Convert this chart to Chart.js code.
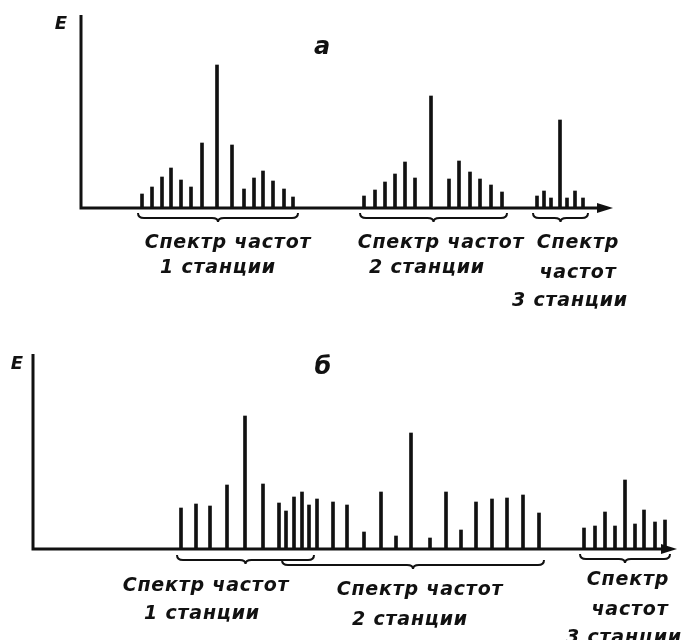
<!DOCTYPE html>
<html lang="ru">
<head>
<meta charset="utf-8">
<title>Спектры частот станций</title>
<script src="https://cdn.jsdelivr.net/npm/chart.js@4.4.1/dist/chart.umd.min.js"></script>
<style>
  html, body { margin: 0; padding: 0; background: #fff; }
  #page { position: relative; width: 689px; height: 640px; overflow: hidden; background: #fff; }
  canvas { position: absolute; left: 0; }
  #chartA { top: 0; }
  #chartB { top: 320px; }
  .lbl {
    position: absolute;
    transform: translate(-50%, -50%);
    white-space: nowrap;
    font-family: 'DejaVu Sans', sans-serif;
    font-style: italic;
    font-weight: bold;
    font-size: 19px;
    letter-spacing: 0.8px;
    color: #111;
  }
  .big { font-size: 24px; letter-spacing: 0; }
  .axisname { font-size: 18px; letter-spacing: 0; }
</style>
</head>
<body>
<div id="page">
  <canvas id="chartA" width="689" height="320"></canvas>
  <canvas id="chartB" width="689" height="320"></canvas>
</div>
<script>
// panel "а": stations separated in frequency
const freqA1 = [61, 71, 81, 90, 100, 110, 121, 136, 151, 163, 173, 182, 192, 203, 212];
const ampA1  = [14, 21, 31, 40, 28, 21, 65, 143, 63, 19, 30, 37, 27, 19, 11];
const freqA2 = [283, 294, 304, 314, 324, 334, 350, 368, 378, 389, 399, 410, 421];
const ampA2  = [12, 18, 26, 34, 46, 30, 112, 29, 47, 36, 29, 23, 16];
const freqA3 = [456, 463, 470, 479, 486, 494, 502];
const ampA3  = [12, 17, 10, 88, 10, 17, 10];

// panel "б": spectra of stations 1 and 2 overlap
const freqB1 = [148, 163, 177, 194, 212, 230, 246, 261, 276];
const ampB1  = [41, 45, 43, 64, 133, 65, 46, 52, 44];
const freqB2 = [253, 269, 284, 300, 314, 331, 348, 363, 378, 397, 413, 428, 443, 459, 474, 490, 506];
const ampB2  = [38, 57, 50, 47, 44, 17, 57, 13, 116, 11, 57, 19, 47, 50, 51, 54, 36];
const freqB3 = [551, 562, 572, 582, 592, 602, 611, 622, 632];
const ampB3  = [21, 23, 37, 23, 69, 25, 39, 27, 29];

const INK = '#111';

function toPoints(freqs, amps) {
  return freqs.map((f, i) => ({ x: f, y: amps[i] }));
}

function brace(ctx, x0, x1, y) {
  const mid = (x0 + x1) / 2;
  ctx.beginPath();
  ctx.moveTo(x0, y - 5);
  ctx.quadraticCurveTo(x0, y, x0 + 6, y);
  ctx.lineTo(mid - 6, y);
  ctx.quadraticCurveTo(mid, y, mid, y + 4);
  ctx.quadraticCurveTo(mid, y, mid + 6, y);
  ctx.lineTo(x1 - 6, y);
  ctx.quadraticCurveTo(x1, y, x1, y - 5);
  ctx.stroke();
}

// axes with arrow + curly braces under each station's spectrum
const sketchPlugin = {
  id: 'sketch',
  afterDatasetsDraw(chart, args, opts) {
    const { ctx, chartArea: a, scales: { x } } = chart;
    ctx.save();
    ctx.strokeStyle = INK;
    ctx.fillStyle = INK;
    ctx.lineCap = 'butt';

    ctx.lineWidth = 3;
    ctx.beginPath();
    ctx.moveTo(a.left, a.top);
    ctx.lineTo(a.left, a.bottom + 1.5);
    ctx.moveTo(a.left, a.bottom);
    ctx.lineTo(a.right - 10, a.bottom);
    ctx.stroke();

    ctx.beginPath();
    ctx.moveTo(a.right, a.bottom);
    ctx.lineTo(a.right - 16, a.bottom - 5);
    ctx.lineTo(a.right - 16, a.bottom + 5);
    ctx.closePath();
    ctx.fill();

    ctx.lineWidth = 2;
    chart.data.datasets.forEach((ds, i) => {
      const xs = ds.data.map(p => p.x);
      const x0 = x.getPixelForValue(Math.min(...xs)) - 4;
      const x1 = x.getPixelForValue(Math.max(...xs)) + 5;
      brace(ctx, x0, x1, a.bottom + opts.depth[i]);
    });
    ctx.restore();
  }
};

function makeChart(id, series, xMax, yMax, padding, depth) {
  return new Chart(document.getElementById(id), {
    type: 'bar',
    data: {
      datasets: series.map(([f, v], i) => ({
        label: `Станция ${i + 1}`,
        data: toPoints(f, v),
        backgroundColor: INK,
        barThickness: 3,
        grouped: false,
      })),
    },
    options: {
      responsive: false,
      animation: false,
      layout: { padding },
      scales: {
        x: { type: 'linear', display: false, offset: false, min: 0, max: xMax },
        y: { display: false, min: 0, max: yMax },
      },
      plugins: {
        legend: { display: false },
        tooltip: { enabled: false },
        sketch: { depth },
      },
    },
    plugins: [sketchPlugin],
  });
}

makeChart('chartA', [[freqA1, ampA1], [freqA2, ampA2], [freqA3, ampA3]],
  532, 193, { left: 81, right: 76, top: 15, bottom: 112 }, [10, 10, 10]);
makeChart('chartB', [[freqB1, ampB1], [freqB2, ampB2], [freqB3, ampB3]],
  644, 195, { left: 33, right: 12, top: 34, bottom: 91 }, [11, 16, 10]);

// captions
const captions = [
  ['E', 61, 22, 'axisname'], ['а', 322, 46, 'big'],
  ['Спектр частот', 228, 241], ['1 станции', 218, 266],
  ['Спектр частот', 441, 241], ['2 станции', 427, 266],
  ['Спектр', 578, 241], ['частот', 578, 271], ['3 станции', 570, 299],
  ['E', 17, 362, 'axisname'], ['б', 323, 366, 'big'],
  ['Спектр частот', 206, 584], ['1 станции', 202, 612],
  ['Спектр частот', 420, 588], ['2 станции', 410, 618],
  ['Спектр', 628, 578], ['частот', 630, 608], ['3 станции', 624, 636],
];
const page = document.getElementById('page');
captions.forEach(([text, cx, cy, cls]) => {
  const el = document.createElement('div');
  el.className = 'lbl' + (cls ? ' ' + cls : '');
  el.textContent = text;
  el.style.left = cx + 'px';
  el.style.top = cy + 'px';
  page.appendChild(el);
});
</script>
</body>
</html>
